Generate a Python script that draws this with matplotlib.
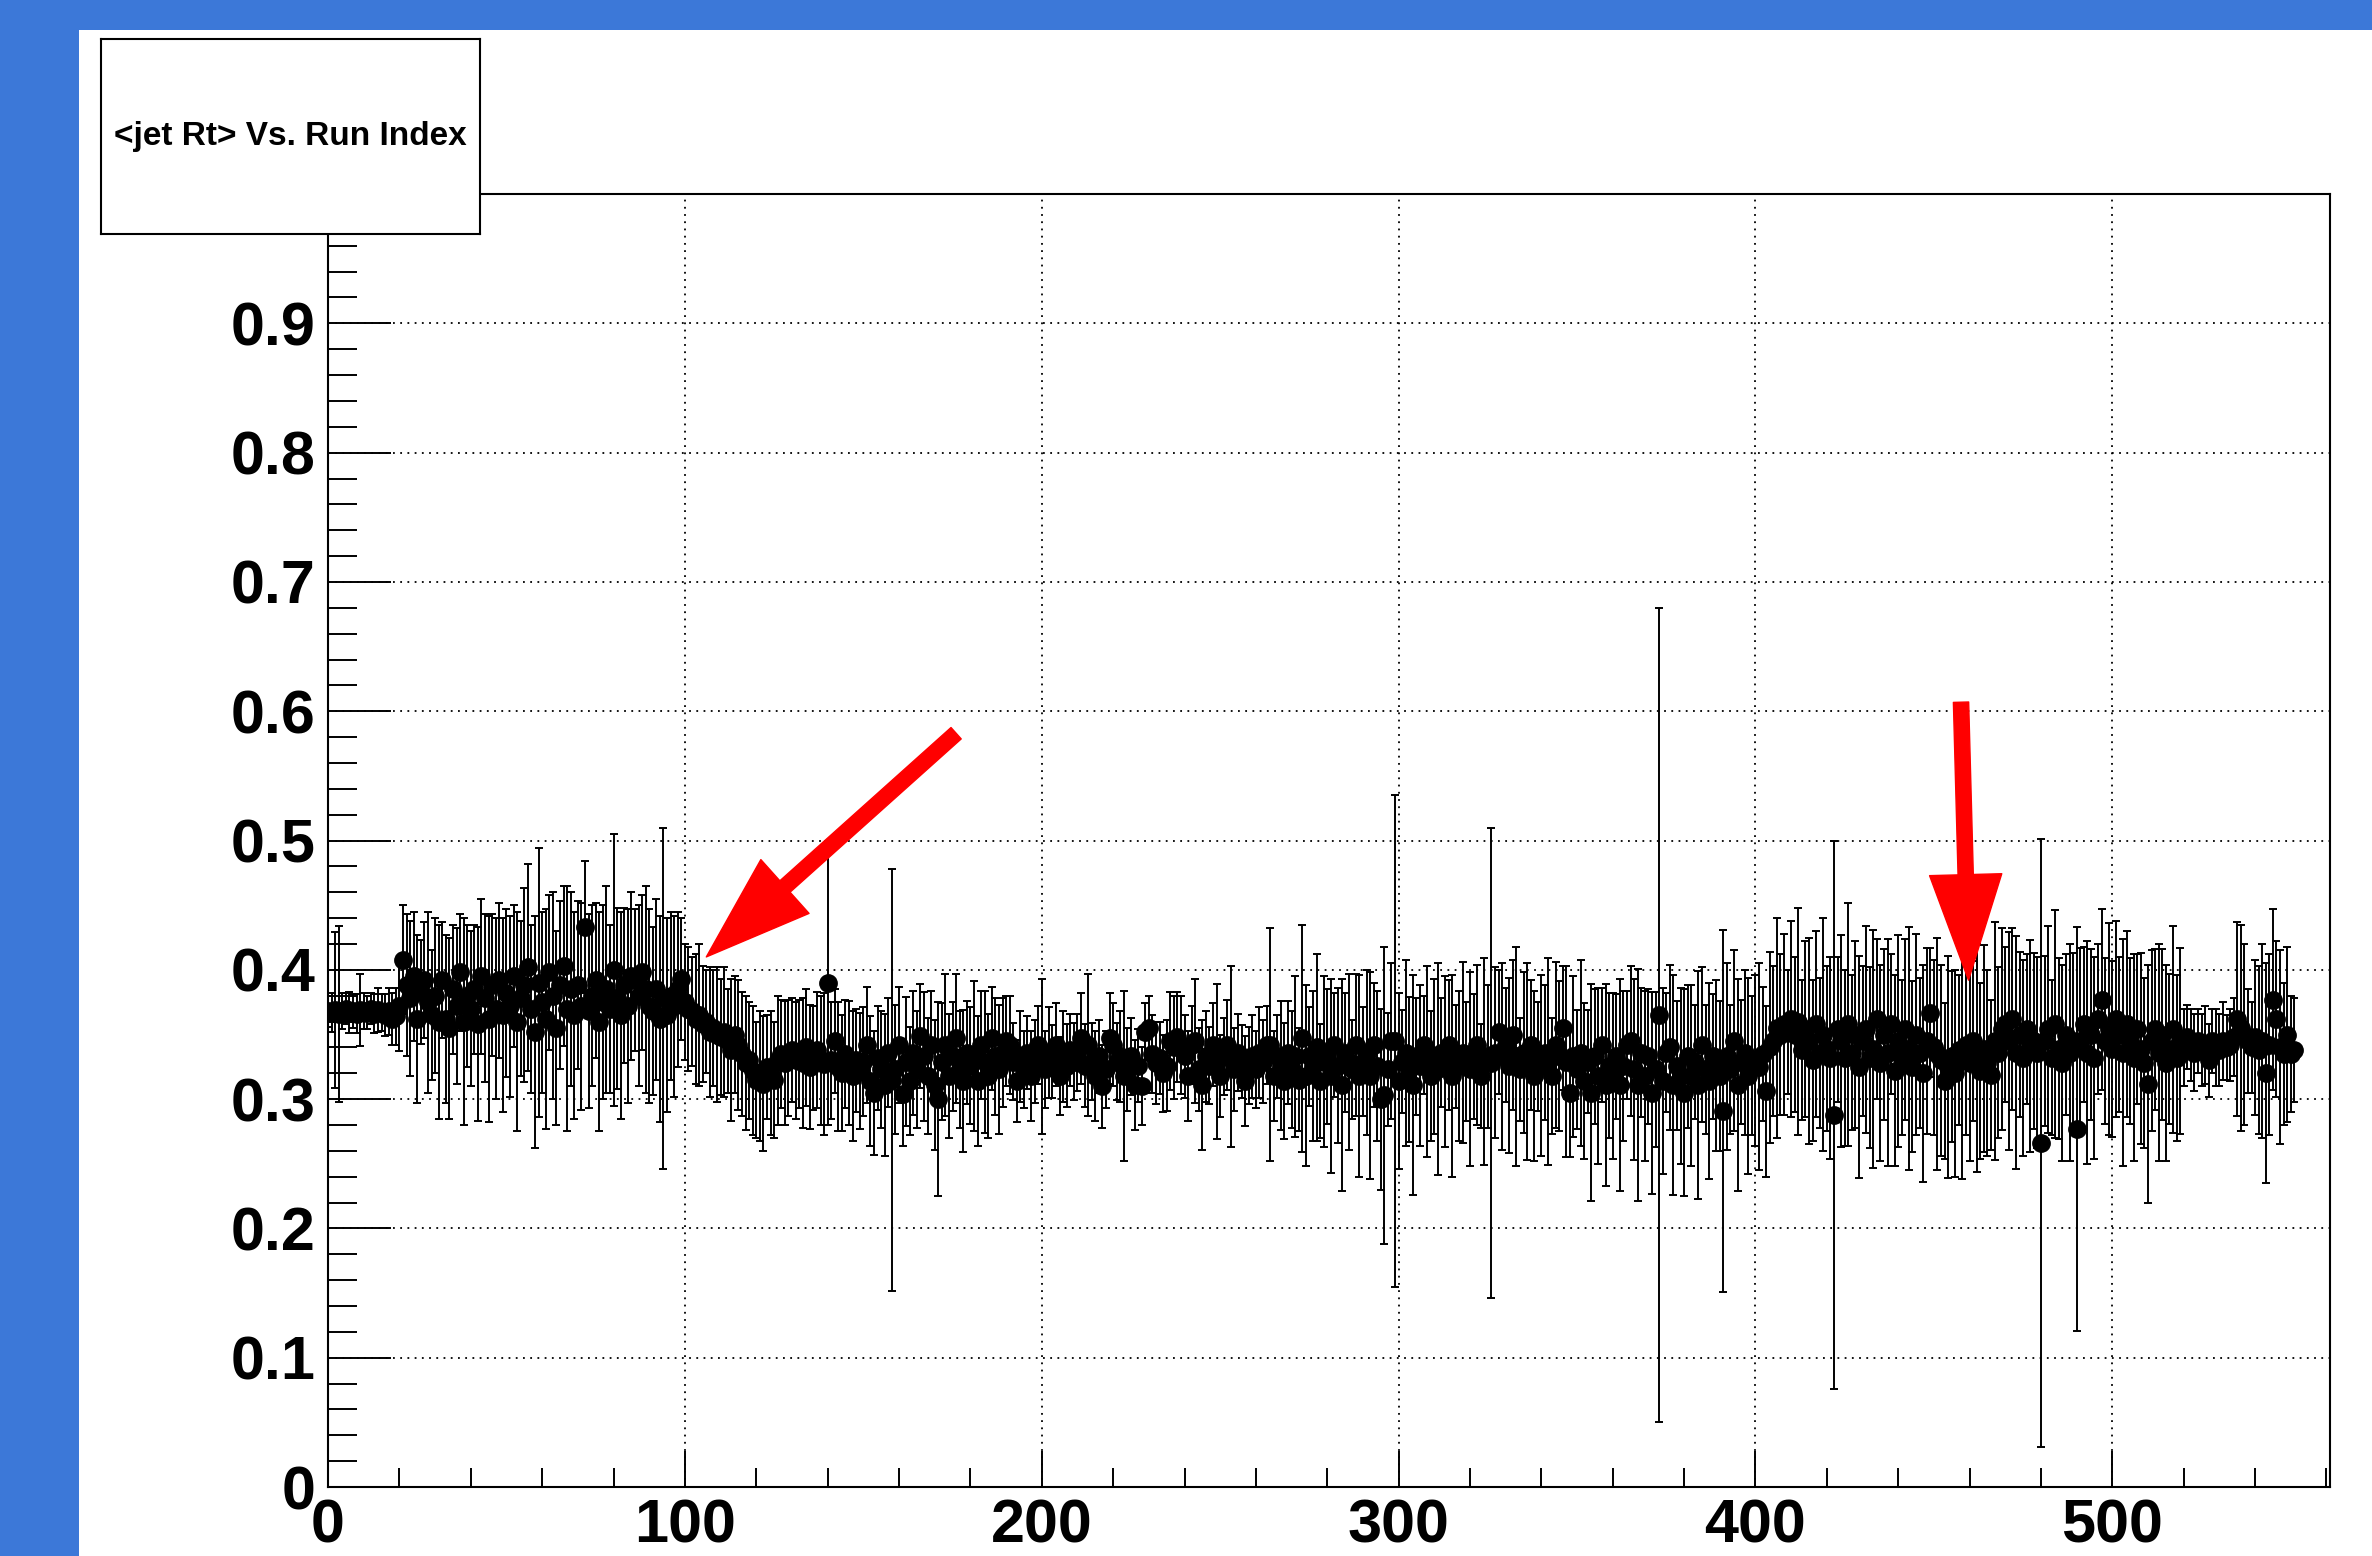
import numpy as np
import matplotlib
matplotlib.use("Agg")
import matplotlib.pyplot as plt
from matplotlib.patches import Rectangle
from matplotlib.ticker import MultipleLocator

plt.rcParams['font.family'] = ['Liberation Sans', 'DejaVu Sans']

# <jet Rt> per run (run index 0..551)
rt_mean = [
    0.368, 0.367, 0.369, 0.366, 0.368, 0.370, 0.367, 0.368, 0.366, 0.369,
    0.368, 0.367, 0.370, 0.366, 0.369, 0.367, 0.365, 0.368, 0.362, 0.364,
    0.372, 0.408, 0.388, 0.378, 0.395, 0.362, 0.383, 0.392, 0.375, 0.365,
    0.380, 0.360, 0.392, 0.362, 0.355, 0.385, 0.372, 0.398, 0.360, 0.380,
    0.370, 0.385, 0.358, 0.395, 0.378, 0.362, 0.388, 0.370, 0.392, 0.365,
    0.382, 0.372, 0.395, 0.360, 0.378, 0.388, 0.402, 0.370, 0.352, 0.390,
    0.375, 0.362, 0.398, 0.380, 0.355, 0.388, 0.403, 0.370, 0.385, 0.365,
    0.388, 0.372, 0.433, 0.368, 0.380, 0.392, 0.360, 0.375, 0.385, 0.370,
    0.400, 0.378, 0.365, 0.388, 0.372, 0.395, 0.392, 0.380, 0.398, 0.385,
    0.372, 0.368, 0.385, 0.362, 0.378, 0.365, 0.380, 0.372, 0.385, 0.393,
    0.375, 0.370, 0.368, 0.362, 0.365, 0.358, 0.360, 0.352, 0.355, 0.350,
    0.348, 0.352, 0.345, 0.338, 0.350, 0.342, 0.335, 0.328, 0.330, 0.322,
    0.315, 0.318, 0.312, 0.325, 0.320, 0.315, 0.330, 0.335, 0.328, 0.332,
    0.338, 0.330, 0.335, 0.328, 0.340, 0.325, 0.332, 0.338, 0.330, 0.327,
    0.390, 0.330, 0.345, 0.325, 0.320, 0.335, 0.328, 0.318, 0.330, 0.322,
    0.329, 0.342, 0.314, 0.305, 0.332, 0.323, 0.311, 0.336, 0.315, 0.323,
    0.342, 0.304, 0.329, 0.314, 0.336, 0.323, 0.349, 0.333, 0.318, 0.342,
    0.311, 0.300, 0.329, 0.342, 0.318, 0.333, 0.347, 0.323, 0.314, 0.336,
    0.326, 0.333, 0.314, 0.342, 0.329, 0.318, 0.347, 0.333, 0.323, 0.336,
    0.345, 0.342, 0.329, 0.314, 0.333, 0.323, 0.336, 0.318, 0.329, 0.342,
    0.333, 0.323, 0.336, 0.329, 0.342, 0.318, 0.333, 0.326, 0.338, 0.329,
    0.336, 0.347, 0.326, 0.342, 0.329, 0.318, 0.333, 0.310, 0.323, 0.347,
    0.342, 0.329, 0.333, 0.318, 0.323, 0.333, 0.311, 0.326, 0.310, 0.352,
    0.355, 0.335, 0.328, 0.332, 0.320, 0.326, 0.345, 0.340, 0.348, 0.342,
    0.333, 0.318, 0.342, 0.345, 0.323, 0.311, 0.333, 0.326, 0.342, 0.329,
    0.318, 0.333, 0.342, 0.333, 0.323, 0.336, 0.329, 0.314, 0.326, 0.333,
    0.323, 0.336, 0.329, 0.342, 0.342, 0.318, 0.333, 0.326, 0.314, 0.336,
    0.323, 0.333, 0.315, 0.347, 0.318, 0.333, 0.326, 0.340, 0.314, 0.329,
    0.333, 0.318, 0.342, 0.326, 0.311, 0.336, 0.329, 0.323, 0.342, 0.318,
    0.329, 0.336, 0.318, 0.342, 0.326, 0.300, 0.303, 0.323, 0.345, 0.345,
    0.314, 0.329, 0.336, 0.323, 0.311, 0.333, 0.326, 0.342, 0.329, 0.318,
    0.333, 0.323, 0.336, 0.329, 0.342, 0.318, 0.333, 0.326, 0.336, 0.329,
    0.323, 0.333, 0.342, 0.318, 0.329, 0.333, 0.328, 0.336, 0.352, 0.333,
    0.342, 0.326, 0.350, 0.333, 0.323, 0.336, 0.329, 0.342, 0.318, 0.333,
    0.326, 0.336, 0.329, 0.318, 0.342, 0.333, 0.355, 0.329, 0.305, 0.333,
    0.323, 0.336, 0.314, 0.329, 0.305, 0.333, 0.318, 0.342, 0.311, 0.326,
    0.318, 0.333, 0.311, 0.326, 0.342, 0.345, 0.323, 0.311, 0.336, 0.318,
    0.333, 0.305, 0.323, 0.365, 0.314, 0.336, 0.340, 0.311, 0.326, 0.318,
    0.305, 0.333, 0.318, 0.329, 0.311, 0.342, 0.323, 0.314, 0.333, 0.326,
    0.318, 0.291, 0.333, 0.323, 0.345, 0.311, 0.329, 0.336, 0.318, 0.326,
    0.330, 0.325, 0.335, 0.306, 0.340, 0.345, 0.355, 0.350, 0.358, 0.352,
    0.362, 0.350, 0.360, 0.338, 0.354, 0.345, 0.330, 0.358, 0.336, 0.350,
    0.339, 0.332, 0.288, 0.354, 0.345, 0.332, 0.358, 0.336, 0.350, 0.325,
    0.345, 0.354, 0.332, 0.339, 0.362, 0.328, 0.350, 0.336, 0.358, 0.322,
    0.345, 0.332, 0.354, 0.339, 0.325, 0.350, 0.336, 0.320, 0.345, 0.367,
    0.340, 0.335, 0.330, 0.314, 0.325, 0.333, 0.320, 0.338, 0.330, 0.342,
    0.328, 0.345, 0.332, 0.322, 0.339, 0.328, 0.319, 0.345, 0.336, 0.354,
    0.358, 0.345, 0.362, 0.336, 0.350, 0.332, 0.354, 0.341, 0.345, 0.336,
    0.266, 0.345, 0.354, 0.332, 0.358, 0.339, 0.328, 0.350, 0.336, 0.345,
    0.277, 0.345, 0.358, 0.336, 0.350, 0.332, 0.362, 0.377, 0.345, 0.354,
    0.339, 0.362, 0.350, 0.336, 0.358, 0.345, 0.332, 0.354, 0.339, 0.328,
    0.312, 0.345, 0.354, 0.336, 0.350, 0.328, 0.339, 0.354, 0.332, 0.345,
    0.340, 0.348, 0.342, 0.336, 0.345, 0.338, 0.342, 0.330, 0.345, 0.340,
    0.338, 0.345, 0.340, 0.342, 0.348, 0.362, 0.355, 0.350, 0.345, 0.340,
    0.348, 0.338, 0.345, 0.320, 0.342, 0.377, 0.362, 0.340, 0.335, 0.350,
    0.335, 0.338,
]

rt_err = [
    0.012, 0.015, 0.060, 0.068, 0.014, 0.012, 0.016, 0.013, 0.015, 0.028,
    0.014, 0.013, 0.012, 0.015, 0.017, 0.014, 0.016, 0.018, 0.020, 0.022,
    0.035, 0.042, 0.055, 0.060, 0.050, 0.065, 0.040, 0.045, 0.070, 0.050,
    0.060, 0.075, 0.045, 0.065, 0.070, 0.050, 0.060, 0.045, 0.080, 0.055,
    0.060, 0.050, 0.075, 0.060, 0.065, 0.080, 0.055, 0.070, 0.060, 0.075,
    0.065, 0.070, 0.055, 0.085, 0.060, 0.075, 0.080, 0.065, 0.090, 0.104,
    0.070, 0.085, 0.060, 0.080, 0.075, 0.065, 0.062, 0.095, 0.075, 0.080,
    0.065, 0.080, 0.051, 0.075, 0.070, 0.060, 0.085, 0.075, 0.080, 0.065,
    0.105, 0.070, 0.080, 0.060, 0.075, 0.065, 0.055, 0.070, 0.060, 0.080,
    0.075, 0.065, 0.070, 0.080, 0.132, 0.075, 0.065, 0.070, 0.060, 0.047,
    0.045, 0.048, 0.042, 0.050, 0.055, 0.045, 0.040, 0.050, 0.045, 0.052,
    0.045, 0.050, 0.040, 0.055, 0.045, 0.050, 0.048, 0.052, 0.045, 0.050,
    0.045, 0.050, 0.052, 0.040, 0.048, 0.045, 0.050, 0.042, 0.048, 0.045,
    0.040, 0.045, 0.042, 0.050, 0.045, 0.048, 0.040, 0.045, 0.050, 0.055,
    0.110, 0.045, 0.040, 0.050, 0.045, 0.042, 0.048, 0.050, 0.040, 0.045,
    0.042, 0.045, 0.050, 0.048, 0.040, 0.045, 0.055, 0.042, 0.163, 0.050,
    0.045, 0.040, 0.050, 0.042, 0.048, 0.045, 0.040, 0.050, 0.045, 0.042,
    0.050, 0.075, 0.045, 0.055, 0.048, 0.042, 0.050, 0.045, 0.055, 0.040,
    0.045, 0.058, 0.050, 0.042, 0.055, 0.048, 0.040, 0.045, 0.050, 0.042,
    0.035, 0.038, 0.030, 0.032, 0.035, 0.030, 0.028, 0.035, 0.032, 0.030,
    0.060, 0.030, 0.035, 0.028, 0.032, 0.030, 0.035, 0.032, 0.028, 0.030,
    0.030, 0.035, 0.032, 0.055, 0.030, 0.035, 0.028, 0.032, 0.030, 0.035,
    0.032, 0.030, 0.035, 0.066, 0.032, 0.030, 0.035, 0.028, 0.030, 0.022,
    0.025, 0.030, 0.032, 0.028, 0.030, 0.035, 0.038, 0.040, 0.035, 0.038,
    0.032, 0.035, 0.030, 0.048, 0.032, 0.050, 0.035, 0.030, 0.032, 0.060,
    0.032, 0.030, 0.035, 0.070, 0.032, 0.030, 0.028, 0.035, 0.030, 0.032,
    0.030, 0.035, 0.032, 0.030, 0.090, 0.035, 0.032, 0.050, 0.045, 0.040,
    0.045, 0.062, 0.040, 0.088, 0.070, 0.038, 0.058, 0.072, 0.044, 0.066,
    0.052, 0.075, 0.040, 0.060, 0.082, 0.046, 0.068, 0.038, 0.055, 0.078,
    0.042, 0.064, 0.080, 0.048, 0.058, 0.070, 0.115, 0.044, 0.060, 0.190,
    0.068, 0.040, 0.072, 0.056, 0.085, 0.045, 0.062, 0.038, 0.074, 0.050,
    0.060, 0.082, 0.042, 0.066, 0.050, 0.078, 0.040, 0.058, 0.070, 0.046,
    0.075, 0.048, 0.062, 0.040, 0.080, 0.055, 0.182, 0.066, 0.048, 0.072,
    0.044, 0.068, 0.058, 0.085, 0.040, 0.062, 0.076, 0.050, 0.066, 0.042,
    0.070, 0.052, 0.080, 0.045, 0.064, 0.058, 0.048, 0.074, 0.050, 0.062,
    0.046, 0.072, 0.060, 0.040, 0.084, 0.052, 0.068, 0.044, 0.078, 0.056,
    0.064, 0.048, 0.082, 0.058, 0.042, 0.058, 0.070, 0.090, 0.050, 0.066,
    0.052, 0.078, 0.060, 0.315, 0.072, 0.046, 0.064, 0.085, 0.050, 0.068,
    0.080, 0.055, 0.070, 0.044, 0.088, 0.060, 0.050, 0.076, 0.048, 0.066,
    0.058, 0.140, 0.072, 0.050, 0.070, 0.082, 0.048, 0.064, 0.076, 0.054,
    0.066, 0.080, 0.052, 0.066, 0.074, 0.058, 0.085, 0.062, 0.070, 0.048,
    0.076, 0.060, 0.088, 0.054, 0.068, 0.080, 0.062, 0.072, 0.058, 0.090,
    0.064, 0.078, 0.212, 0.056, 0.082, 0.068, 0.094, 0.060, 0.072, 0.086,
    0.058, 0.080, 0.070, 0.092, 0.062, 0.076, 0.066, 0.088, 0.054, 0.074,
    0.082, 0.060, 0.070, 0.094, 0.066, 0.078, 0.058, 0.084, 0.072, 0.050,
    0.068, 0.090, 0.074, 0.060, 0.086, 0.066, 0.080, 0.058, 0.092, 0.070,
    0.076, 0.062, 0.088, 0.068, 0.080, 0.072, 0.058, 0.092, 0.066, 0.078,
    0.060, 0.084, 0.070, 0.090, 0.064, 0.076, 0.058, 0.082, 0.068, 0.074,
    0.235, 0.066, 0.080, 0.060, 0.088, 0.070, 0.076, 0.062, 0.084, 0.068,
    0.156, 0.072, 0.060, 0.086, 0.066, 0.078, 0.058, 0.070, 0.064, 0.082,
    0.068, 0.076, 0.060, 0.088, 0.072, 0.064, 0.080, 0.058, 0.074, 0.066,
    0.092, 0.070, 0.062, 0.084, 0.066, 0.076, 0.058, 0.080, 0.064, 0.072,
    0.030, 0.025, 0.028, 0.030, 0.025, 0.028, 0.030, 0.028, 0.025, 0.030,
    0.028, 0.030, 0.025, 0.028, 0.030, 0.075, 0.080, 0.070, 0.040, 0.035,
    0.060, 0.065, 0.075, 0.085, 0.070, 0.070, 0.060, 0.075, 0.055, 0.068,
    0.045, 0.040,
]

run_index = np.arange(len(rt_mean))

title_text = "<jet Rt> Vs. Run Index"

# red arrows (tail -> tip, in data units)
arrow_left = ((176, 0.583), (106, 0.410))
arrow_right = ((457.6, 0.607), (459.7, 0.392))

blue = "#3c78d8"

fig = plt.figure(figsize=(23.72, 15.56), dpi=100, facecolor=blue)
# white slide area
fig.add_artist(Rectangle((79 / 2372, 0), 1, 1 - 30 / 1556, transform=fig.transFigure,
                         facecolor="white", edgecolor="none", zorder=0))

ax = fig.add_axes([0.1383, 0.0443, 0.9823 - 0.1383, 0.8753 - 0.0443])
ax.set_facecolor("white")

ax.errorbar(run_index, rt_mean, yerr=rt_err, fmt="o", color="black", ms=12.5,
            ecolor="black", elinewidth=1.4, capsize=3, capthick=1.4, zorder=3)

ax.set_xlim(0, 561)
ax.set_ylim(0, 1.0)
ax.xaxis.set_major_locator(MultipleLocator(100))
ax.xaxis.set_minor_locator(MultipleLocator(20))
ax.yaxis.set_major_locator(MultipleLocator(0.1))
ax.yaxis.set_minor_locator(MultipleLocator(0.02))

yticks = np.arange(0, 1.0, 0.1)
ax.set_yticks(yticks)
ax.set_yticklabels(["0"] + ["%.1f" % v for v in yticks[1:]])
ax.set_xticks([0, 100, 200, 300, 400, 500])

ax.tick_params(axis="y", which="major", direction="in", length=45, width=1.4,
               labelsize=44, pad=9, right=False)
ax.tick_params(axis="y", which="minor", direction="in", length=21, width=1.4, right=False)
ax.tick_params(axis="x", which="major", direction="in", length=26, width=1.4,
               labelsize=44, pad=8, top=False)
ax.tick_params(axis="x", which="minor", direction="in", length=14, width=1.4, top=False)
for lab in ax.get_xticklabels() + ax.get_yticklabels():
    lab.set_fontweight("bold")

ax.grid(True, which="major", color="black", linestyle=(0, (1, 3)), linewidth=1.3)
ax.set_axisbelow(True)
for s in ax.spines.values():
    s.set_linewidth(1.5)

for (tail, tip) in (arrow_left, arrow_right):
    ax.annotate("", xy=tip, xytext=tail, zorder=5,
                arrowprops=dict(arrowstyle="simple,head_length=7.6,head_width=5.2,tail_width=1.1",
                                mutation_scale=10, color="#ff0000", shrinkA=0, shrinkB=0))

# title box drawn over the plot frame
tax = fig.add_axes([101 / 2372, 1 - 234 / 1556, (480 - 101) / 2372, (234 - 39) / 1556])
tax.set_facecolor("white")
tax.set_xticks([])
tax.set_yticks([])
for s in tax.spines.values():
    s.set_linewidth(1.5)
tax.text(0.5, 0.5, title_text, ha="center", va="center", fontsize=24,
         fontweight="bold", transform=tax.transAxes)

fig.savefig("out.png", dpi=100, facecolor=blue)
